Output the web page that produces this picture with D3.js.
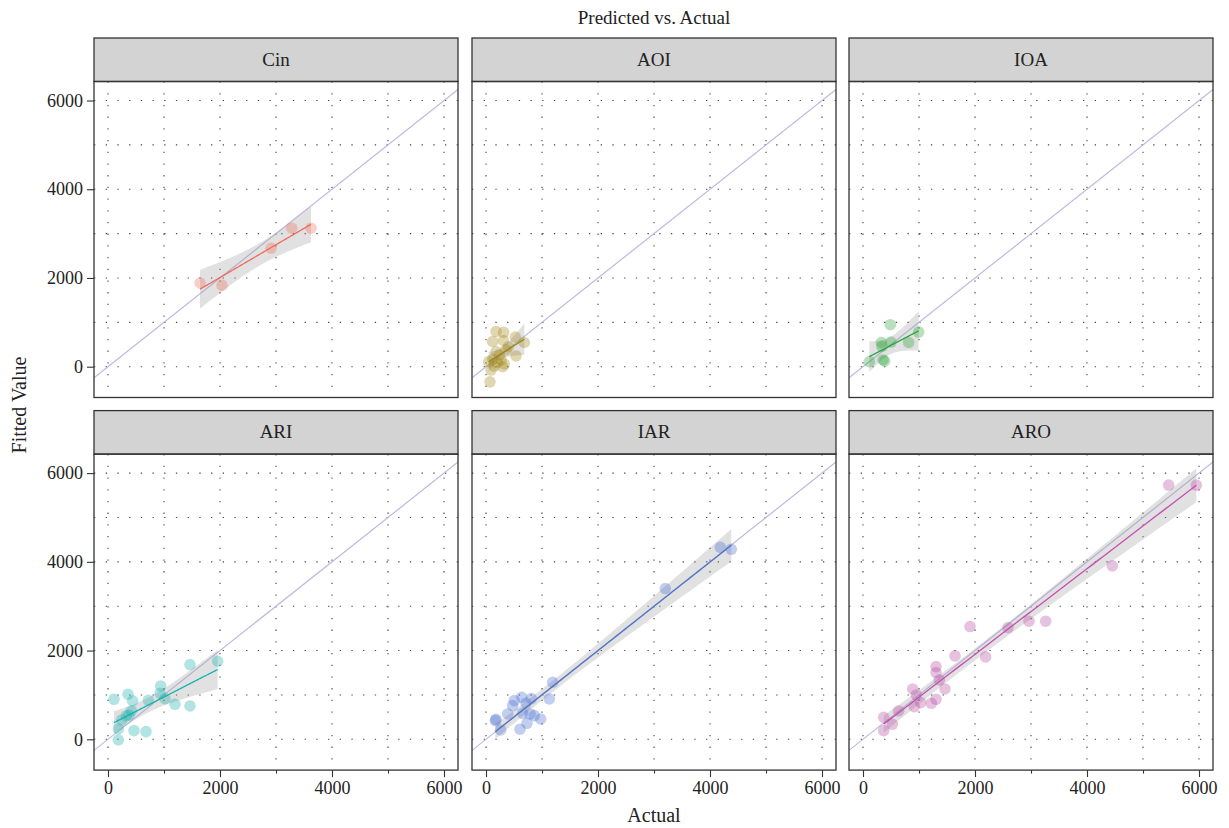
<!DOCTYPE html>
<html><head><meta charset="utf-8">
<script src="https://cdn.jsdelivr.net/npm/d3@7"></script>
<style>body{margin:0;background:#fff}svg{display:block}</style>
</head><body>
<svg id="c" width="1229" height="828"></svg>
<script>
// ---- data ----
const facets = ["Cin", "AOI", "IOA", "ARI", "IAR", "ARO"];
const cinActual = [1643, 2036, 2911, 3280, 3625];
const cinFitted = [1887, 1833, 2670, 3122, 3122];
const aoiActual = [179, 315, 119, 310, 524, 685, 179, 357, 536, 48, 119, 268, 327, 89, 149, 71, 298, 238, 400, 200];
const aoiFitted = [795, 773, 568, 591, 667, 545, 341, 379, 242, 114, 167, 152, 61, -76, 15, -341, 0, 265, 450, 90];
const ioaActual = [488, 994, 327, 500, 815, 339, 113, 357, 387];
const ioaFitted = [947, 780, 545, 553, 545, 455, 114, 152, 129];
const ariActual = [107, 357, 440, 185, 185, 464, 679, 244, 327, 417, 720, 940, 929, 1018, 1196, 1464, 1464, 1958, 375];
const ariFitted = [902, 1015, 865, 233, -15, 195, 173, 436, 526, 639, 880, 1203, 1038, 917, 789, 752, 1684, 1759, 549];
const iarActual = [3202, 1190, 1131, 637, 810, 506, 476, 714, 387, 655, 786, 863, 976, 732, 607, 179, 167, 262, 4184, 4380];
const iarFitted = [3398, 1286, 910, 947, 917, 872, 759, 812, 571, 586, 571, 534, 459, 361, 226, 451, 421, 211, 4328, 4282];
const aroActual = [5458, 5952, 4452, 2964, 3262, 2589, 1911, 2190, 1643, 1304, 1304, 1363, 1464, 887, 952, 1030, 917, 1220, 1304, 637, 369, 524, 369];
const aroFitted = [5729, 5729, 3910, 2662, 2662, 2519, 2541, 1857, 1880, 1639, 1504, 1338, 1135, 1135, 1000, 827, 737, 812, 902, 639, 496, 338, 195];
const xTicks = [0, 2000, 4000, 6000];
const xMinorTicks = [1000, 3000, 5000];
const yTicks = [0, 2000, 4000, 6000];
const gridValues = [0, 1000, 2000, 3000, 4000, 5000, 6000];
const pointColors = ["#EE6B55", "#A08410", "#22A032", "#12AAAA", "#4168CC", "#B0409A"];
const lineColors = ["#F06A5E", "#9C8414", "#1FA83E", "#11B3B3", "#4F74CC", "#C64DB4"];
const titleText = "Predicted vs. Actual";
const xTitle = "Actual";
const yTitle = "Fitted Value";

const series = [
  [cinActual, cinFitted], [aoiActual, aoiFitted], [ioaActual, ioaFitted],
  [ariActual, ariFitted], [iarActual, iarFitted], [aroActual, aroFitted]
];

// ---- layout ----
const FONT = "'Liberation Serif','DejaVu Serif',serif";
const colLeft = [94, 472, 849];
const panelW = 364;
const rowTop = [38, 410.6];
const stripH = 43.5;
const plotH = 316;

const svg = d3.select("#c");
const defs = svg.append("defs");

function tQuant(df) {
  const z = 1.959964;
  return z + (z**3 + z) / (4 * df) + (5 * z**5 + 16 * z**3 + 3 * z) / (96 * df * df)
    + (3 * z**7 + 19 * z**5 + 17 * z**3 - 15 * z) / (384 * df ** 3);
}

function lmFit(xs, ys) {
  const n = xs.length;
  const mx = d3.mean(xs), my = d3.mean(ys);
  let sxx = 0, sxy = 0;
  for (let i = 0; i < n; i++) { sxx += (xs[i] - mx) ** 2; sxy += (xs[i] - mx) * (ys[i] - my); }
  const b = sxy / sxx, a = my - b * mx;
  let sse = 0;
  for (let i = 0; i < n; i++) sse += (ys[i] - a - b * xs[i]) ** 2;
  const s = Math.sqrt(sse / (n - 2));
  const t = tQuant(n - 2);
  const [lo, hi] = d3.extent(xs);
  const pts = d3.range(81).map(i => {
    const x = lo + (hi - lo) * i / 80;
    const yh = a + b * x;
    const se = s * Math.sqrt(1 / n + (x - mx) ** 2 / sxx);
    return { x, y: yh, lo: yh - t * se, hi: yh + t * se };
  });
  return pts;
}

facets.forEach((name, k) => {
  const col = k % 3, row = Math.floor(k / 3);
  const L = colLeft[col];
  const sTop = rowTop[row];
  const pTop = sTop + stripH;
  const pBot = pTop + plotH;
  const x = d3.scaleLinear().domain([0, 6000]).range([L + 14, L + 350]);
  const y = d3.scaleLinear().domain([0, 6000]).range([pTop + 285.2, pTop + 19]);
  const xDom = [x.invert(L), x.invert(L + panelW)];
  const g = svg.append("g");

  defs.append("clipPath").attr("id", "clip" + k)
    .append("rect").attr("x", L).attr("y", pTop).attr("width", panelW).attr("height", plotH);

  // strip
  g.append("rect").attr("x", L).attr("y", sTop).attr("width", panelW).attr("height", stripH)
    .attr("fill", "#d3d3d3").attr("stroke", "#333").attr("stroke-width", 1.3);
  g.append("text").attr("x", L + panelW / 2).attr("y", sTop + stripH / 2 + 6)
    .attr("text-anchor", "middle").attr("font-family", FONT).attr("font-size", 19)
    .attr("fill", "#222").text(name);

  const inner = g.append("g").attr("clip-path", `url(#clip${k})`);
  // grid
  inner.selectAll("line.gh").data(gridValues).join("line")
    .attr("x1", L).attr("x2", L + panelW).attr("y1", d => y(d)).attr("y2", d => y(d))
    .attr("stroke", "#444").attr("stroke-width", 1.1).attr("stroke-dasharray", "1.3,10.4");
  inner.selectAll("line.gv").data(gridValues).join("line")
    .attr("y1", pTop).attr("y2", pBot).attr("x1", d => x(d)).attr("x2", d => x(d))
    .attr("stroke", "#444").attr("stroke-width", 1.1).attr("stroke-dasharray", "1.3,10.4");

  // identity line
  inner.append("line")
    .attr("x1", x(xDom[0])).attr("y1", y(xDom[0])).attr("x2", x(xDom[1])).attr("y2", y(xDom[1]))
    .attr("stroke", "#bdb9e0").attr("stroke-width", 1.2);

  const [xs, ys] = series[k];
  const fit = lmFit(xs, ys);
  inner.append("path").datum(fit)
    .attr("d", d3.area().x(d => x(d.x)).y0(d => y(d.lo)).y1(d => y(d.hi)))
    .attr("fill", "#9a9a9a").attr("fill-opacity", 0.3);

  inner.selectAll("circle").data(xs.map((v, i) => [v, ys[i]])).join("circle")
    .attr("cx", d => x(d[0])).attr("cy", d => y(d[1])).attr("r", 5.8)
    .attr("fill", pointColors[k]).attr("fill-opacity", 0.32);

  inner.append("path").datum(fit)
    .attr("d", d3.line().x(d => x(d.x)).y(d => y(d.y)))
    .attr("fill", "none").attr("stroke", lineColors[k]).attr("stroke-width", 1.3);

  // panel border
  g.append("rect").attr("x", L).attr("y", pTop).attr("width", panelW).attr("height", plotH)
    .attr("fill", "none").attr("stroke", "#333").attr("stroke-width", 1.3);

  // axes
  if (row === 1) {
    const ax = g.append("g").attr("transform", `translate(0,${pBot})`)
      .call(d3.axisBottom(x).tickValues(xTicks).tickSize(7).tickSizeOuter(0).tickPadding(4).tickFormat(d3.format("d")));
    ax.select(".domain").remove();
    ax.selectAll("line").attr("stroke", "#333").attr("stroke-width", 1.1);
    ax.selectAll("text").attr("font-family", FONT).attr("font-size", 18).attr("fill", "#222");
    const axm = g.append("g").attr("transform", `translate(0,${pBot})`)
      .call(d3.axisBottom(x).tickValues(xMinorTicks).tickSize(3.5).tickSizeOuter(0).tickFormat(""));
    axm.select(".domain").remove();
    axm.selectAll("line").attr("stroke", "#333").attr("stroke-width", 1.1);
  }
  if (col === 0) {
    const ay = g.append("g").attr("transform", `translate(${L},0)`)
      .call(d3.axisLeft(y).tickValues(yTicks).tickSize(7).tickSizeOuter(0).tickPadding(4).tickFormat(d3.format("d")));
    ay.select(".domain").remove();
    ay.selectAll("line").attr("stroke", "#333").attr("stroke-width", 1.1);
    ay.selectAll("text").attr("font-family", FONT).attr("font-size", 18).attr("fill", "#222");
  }
});

svg.append("text").attr("x", 654).attr("y", 24).attr("text-anchor", "middle")
  .attr("font-family", FONT).attr("font-size", 19).attr("fill", "#222").text(titleText);
svg.append("text").attr("x", 654).attr("y", 822).attr("text-anchor", "middle")
  .attr("font-family", FONT).attr("font-size", 20).attr("fill", "#222").text(xTitle);
svg.append("text").attr("transform", "translate(26,405) rotate(-90)").attr("text-anchor", "middle")
  .attr("font-family", FONT).attr("font-size", 20).attr("fill", "#222").text(yTitle);
</script>
</body></html>
